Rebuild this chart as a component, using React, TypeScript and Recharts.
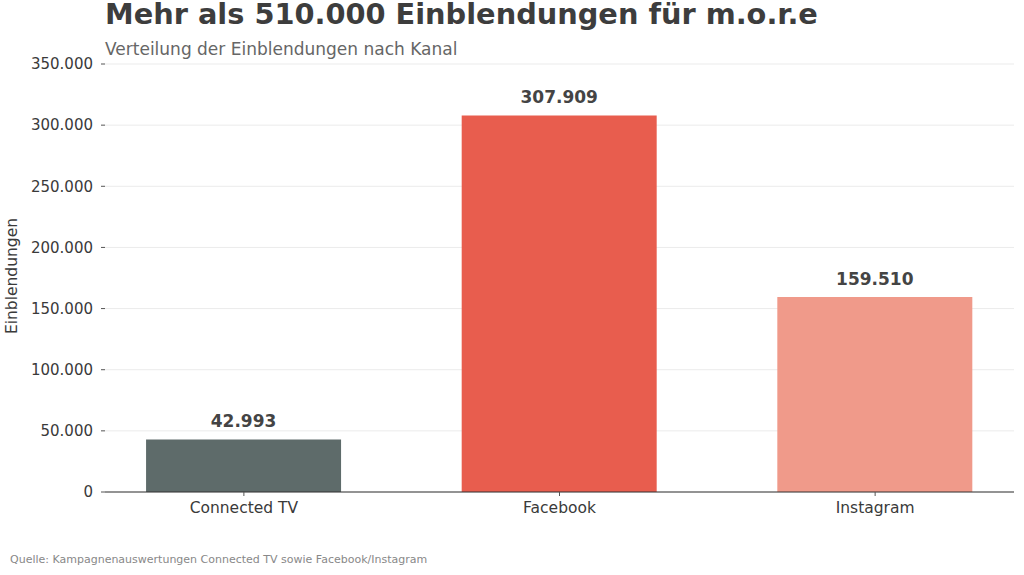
import React from "react";
import { BarChart, Bar, XAxis, YAxis, CartesianGrid, Cell, LabelList } from "recharts";

const categories = ["Connected TV", "Facebook", "Instagram"];
const impressions = [42993, 307909, 159510];
const barColors = ["#5E6B6A", "#E85D4E", "#F09A8A"];
const yTicks = [0, 50000, 100000, 150000, 200000, 250000, 300000, 350000];

const data = categories.map((c, i) => ({ idx: i, name: c, value: impressions[i] }));

const fmt = (v: number) => String(Math.round(v)).replace(/\B(?=(\d{3})+(?!\d))/g, ".");

const FONT = "'DejaVu Sans', sans-serif";

const ValueLabel = (props: any) => {
  const { x, y, width, value } = props;
  return (
    <text x={x + width / 2} y={y - 12} textAnchor="middle" fontFamily={FONT} fontSize={17} fontWeight="bold" fill="#444">
      {fmt(value)}
    </text>
  );
};

export default function App() {
  return (
    <div style={{ position: "absolute", left: 0, top: 0, width: 1024, height: 575, background: "#fff" }}>
      <BarChart width={1024} height={575} data={data} margin={{ top: 64, right: 10, bottom: 53, left: 0 }}>
        <CartesianGrid horizontal vertical={false} stroke="#ebebeb" strokeWidth={1} />
        <XAxis
          type="number"
          dataKey="idx"
          height={30}
          domain={[-0.44, 2.44]}
          ticks={[0, 1, 2]}
          tickFormatter={(i: number) => categories[i]}
          axisLine={{ stroke: "#333", strokeWidth: 1.2 }}
          tickLine={{ stroke: "#555" }}
          tickSize={4}
          tickMargin={6}
          tick={{ fontFamily: FONT, fontSize: 15.5, fill: "#3a3a3a" }}
          allowDataOverflow
        />
        <YAxis
          width={105}
          domain={[0, 350000]}
          ticks={yTicks}
          tickFormatter={fmt}
          axisLine={false}
          tickLine={{ stroke: "#555" }}
          tickSize={4}
          tickMargin={8}
          tick={{ fontFamily: FONT, fontSize: 15, fill: "#3a3a3a" }}
          allowDataOverflow
        />
        <Bar dataKey="value" barSize={195} isAnimationActive={false}>
          {data.map((d, i) => (
            <Cell key={d.name} fill={barColors[i]} />
          ))}
          <LabelList dataKey="value" content={ValueLabel} />
        </Bar>
      </BarChart>
      <svg width={1024} height={575} style={{ position: "absolute", left: 0, top: 0, pointerEvents: "none" }}>
        <text x={105} y={24} fontFamily={FONT} fontSize={28.8} fontWeight="bold" fill="#3d3d3d">
          Mehr als 510.000 Einblendungen für m.o.r.e
        </text>
        <text x={105} y={55} fontFamily={FONT} fontSize={17} fill="#666">
          Verteilung der Einblendungen nach Kanal
        </text>
        <text
          x={17}
          y={276}
          transform="rotate(-90 17 276)"
          textAnchor="middle"
          fontFamily={FONT}
          fontSize={15.5}
          fill="#3a3a3a"
        >
          Einblendungen
        </text>
        <text x={10} y={563} fontFamily={FONT} fontSize={11} fill="#888">
          Quelle: Kampagnenauswertungen Connected TV sowie Facebook/Instagram
        </text>
      </svg>
    </div>
  );
}
